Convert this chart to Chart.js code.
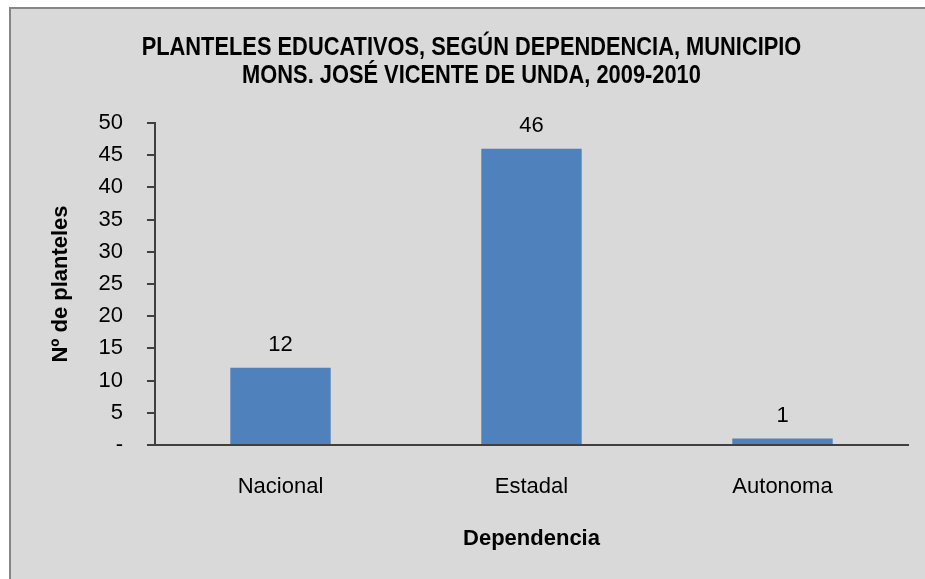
<!DOCTYPE html>
<html>
<head>
<meta charset="utf-8">
<title>Planteles educativos</title>
<script src="https://cdn.jsdelivr.net/npm/chart.js@4/dist/chart.umd.min.js"></script>
<style>
  html, body { margin: 0; padding: 0; background: #fff; }
  #wrap { width: 925px; height: 579px; }
</style>
</head>
<body>
<div id="wrap"><canvas id="chart" width="925" height="579"></canvas></div>
<script>
// Datos: planteles por dependencia
const dependencias = ['Nacional', 'Estadal', 'Autonoma'];
const planteles    = [12, 46, 1];
const tituloLineas = ['PLANTELES EDUCATIVOS, SEGÚN DEPENDENCIA, MUNICIPIO',
                      'MONS. JOSÉ VICENTE DE UNDA, 2009-2010'];

const fondo = '#d9d9d9';
const azul  = '#4f81bd';
const eje   = '#404040';
const fuente = '"Liberation Sans", Arial, sans-serif';

// Marco gris del gráfico
const marcoPlugin = {
  id: 'marco',
  beforeDraw(chart) {
    const ctx = chart.ctx;
    ctx.save();
    ctx.fillStyle = '#ffffff';
    ctx.fillRect(0, 0, chart.width, chart.height);
    ctx.fillStyle = fondo;
    ctx.fillRect(9, 7, chart.width - 9, chart.height - 7);
    ctx.strokeStyle = '#868686';
    ctx.lineWidth = 2;
    ctx.beginPath();
    ctx.moveTo(10, chart.height);
    ctx.lineTo(10, 8);
    ctx.lineTo(chart.width, 8);
    ctx.stroke();
    ctx.restore();
  }
};

// Título en negrita angosta (se comprime a lo ancho)
const tituloPlugin = {
  id: 'titulo',
  afterDraw(chart) {
    const ctx = chart.ctx;
    const cx = (chart.chartArea.left + chart.chartArea.right) / 2 - 60;
    ctx.save();
    ctx.font = 'bold 26px ' + fuente;
    ctx.fillStyle = '#000';
    ctx.textAlign = 'center';
    ctx.textBaseline = 'middle';
    tituloLineas.forEach((t, i) => {
      const w = ctx.measureText(t).width * 0.84;
      ctx.fillText(t, cx, 48 + i * 28, w);
    });
    ctx.restore();
  }
};

// Valor encima de cada barra
const etiquetasPlugin = {
  id: 'etiquetas',
  afterDatasetsDraw(chart) {
    const ctx = chart.ctx;
    const meta = chart.getDatasetMeta(0);
    ctx.save();
    ctx.font = '22px ' + fuente;
    ctx.fillStyle = '#000';
    ctx.textAlign = 'center';
    ctx.textBaseline = 'alphabetic';
    meta.data.forEach((bar, i) => {
      ctx.fillText(String(chart.data.datasets[0].data[i]), bar.x, bar.y - 17);
    });
    ctx.restore();
  }
};

new Chart(document.getElementById('chart'), {
  type: 'bar',
  data: {
    labels: dependencias,
    datasets: [{
      label: 'Planteles',
      data: planteles,
      backgroundColor: azul,
      borderWidth: 0,
      categoryPercentage: 1,
      barPercentage: 0.4
    }]
  },
  options: {
    responsive: false,
    animation: false,
    layout: { padding: { left: 10, top: 123, right: 17, bottom: 0 } },
    plugins: {
      legend: { display: false },
      tooltip: { enabled: false },
      title: { display: false }
    },
    scales: {
      x: {
        grid: { display: false, drawTicks: false },
        border: { display: true, color: eje, width: 2 },
        ticks: {
          color: '#000',
          padding: 29,
          font: { family: fuente, size: 22 }
        },
        title: {
          display: true,
          text: 'Dependencia',
          color: '#000',
          font: { family: fuente, size: 22, weight: 'bold' },
          padding: { top: 0, bottom: 27 }
        },
        afterFit(scale) { scale.height = 134; }
      },
      y: {
        min: 0,
        max: 50,
        grid: { drawOnChartArea: false, drawTicks: true, tickLength: 8, color: eje, lineWidth: 2 },
        border: { display: true, color: eje, width: 2 },
        ticks: {
          stepSize: 5,
          color: '#000',
          padding: 24,
          font: { family: fuente, size: 22 },
          callback: v => v === 0 ? '-' : v
        },
        title: {
          display: true,
          text: 'Nº de planteles',
          color: '#000',
          font: { family: fuente, size: 22, weight: 'bold' },
          padding: { top: 38, bottom: 0 }
        },
        afterFit(scale) { scale.width = 145; }
      }
    }
  },
  plugins: [marcoPlugin, tituloPlugin, etiquetasPlugin]
});
</script>
</body>
</html>
